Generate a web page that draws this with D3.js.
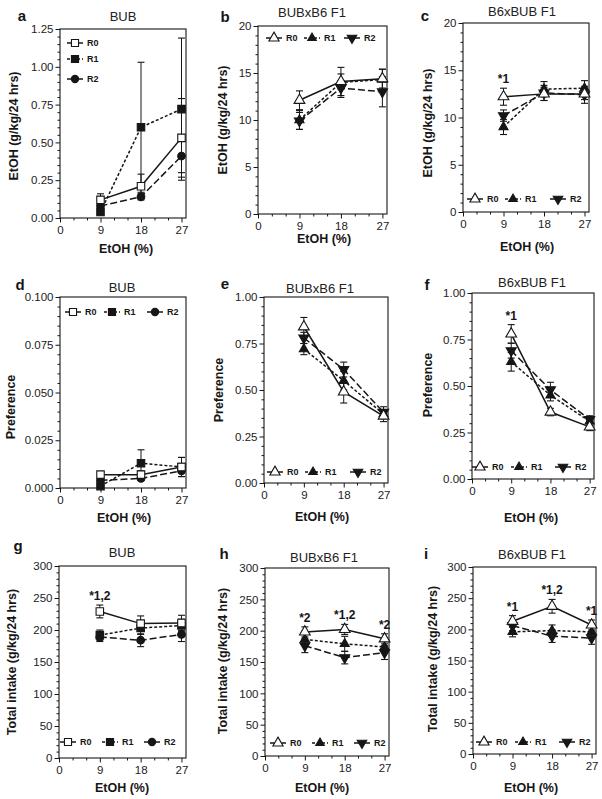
<!DOCTYPE html>
<html><head><meta charset="utf-8">
<script src="https://cdn.jsdelivr.net/npm/d3@7"></script>
<style>body{margin:0;background:#fff}svg{display:block}</style>
</head><body>
<svg id="chart" width="602" height="799"></svg>
<script>
// ---------- DATA ----------
const concentrations = [9, 18, 27];
const xTickValues = [0, 9, 18, 27];
const seriesLabels = ["R0", "R1", "R2"];
const panelLetters = ["a", "b", "c", "d", "e", "f", "g", "h", "i"];
const panelTitles = ["BUB", "BUBxB6 F1", "B6xBUB F1", "BUB", "BUBxB6 F1", "B6xBUB F1", "BUB", "BUBxB6 F1", "B6xBUB F1"];
const yAxisTitles = ["EtOH (g/kg/24 hrs)", "Preference", "Total intake (g/kg/24 hrs)"];
const xAxisTitle = "EtOH (%)";

// rows: R0, R1, R2 ; columns: 9, 18, 27 %
const bubEtoh = [[0.12, 0.21, 0.53], [0.04, 0.60, 0.72], [0.08, 0.14, 0.41]];
const bubEtohErr = [[0.04, 0.08, 0.26], [0.02, 0.43, 0.47], [0.02, 0.02, 0.11]];
const bubxb6Etoh = [[12.1, 14.1, 14.4], [10.0, 14.0, 14.3], [9.9, 13.4, 13.0]];
const bubxb6EtohErr = [[1.0, 0.8, 1.0], [1.0, 1.6, 1.1], [0.9, 0.8, 1.6]];
const b6xbubEtoh = [[12.2, 12.5, 12.5], [9.0, 13.0, 13.1], [10.2, 12.6, 12.4]];
const b6xbubEtohErr = [[0.9, 0.7, 0.6], [0.8, 0.8, 0.8], [0.6, 0.8, 0.9]];

const bubPref = [[0.007, 0.007, 0.011], [0.001, 0.013, 0.011], [0.004, 0.005, 0.009]];
const bubPrefErr = [[0.001, 0.002, 0.005], [0.001, 0.007, 0.005], [0.002, 0.001, 0.003]];
const bubxb6Pref = [[0.84, 0.49, 0.36], [0.72, 0.55, 0.37], [0.78, 0.61, 0.38]];
const bubxb6PrefErr = [[0.05, 0.06, 0.03], [0.03, 0.05, 0.02], [0.03, 0.04, 0.03]];
const b6xbubPref = [[0.78, 0.36, 0.28], [0.63, 0.45, 0.31], [0.69, 0.48, 0.32]];
const b6xbubPrefErr = [[0.05, 0.02, 0.02], [0.05, 0.03, 0.02], [0.04, 0.04, 0.02]];

const bubTotal = [[229, 210, 211], [192, 203, 207], [189, 184, 193]];
const bubTotalErr = [[10, 12, 12], [8, 10, 10], [7, 10, 11]];
const bubxb6Total = [[198, 202, 187], [186, 179, 174], [176, 157, 165]];
const bubxb6TotalErr = [[8, 8, 8], [9, 12, 9], [11, 10, 11]];
const b6xbubTotal = [[213, 237, 207], [196, 198, 196], [206, 189, 186]];
const b6xbubTotalErr = [[9, 11, 8], [8, 9, 9], [8, 10, 10]];

const etohTicksBUB = [0, 0.25, 0.5, 0.75, 1.0, 1.25];
const etohTicksF1 = [0, 5, 10, 15, 20];
const prefTicksBUB = [0, 0.025, 0.05, 0.075, 0.1];
const prefTicksF1 = [0, 0.25, 0.5, 0.75, 1.0];
const totalTicks = [0, 50, 100, 150, 200, 250, 300];

const annotC = [[0, "*1"]];
const annotF = [[0, "*1"]];
const annotG = [[0, "*1,2"]];
const annotH = [[0, "*2"], [1, "*1,2"], [2, "*2"]];
const annotI = [[0, "*1"], [1, "*1,2"], [2, "*1"]];

// ---------- LAYOUT ----------
const panels = [
  {m: bubEtoh, e: bubEtohErr, t: etohTicksBUB, fmt: ".2f", yt: 0, shape: "sq", ann: [],
   L: 60, R: 186, T: 29, B: 218, let: [22, 21], tit: [123, 21], ytp: [14, 126], xtp: [126, 253],
   leg: {v: true, xs: [75, 75, 75], ys: [43, 59, 79]}},
  {m: bubxb6Etoh, e: bubxb6EtohErr, t: etohTicksF1, fmt: "d", yt: 0, shape: "tri", ann: [],
   L: 258, R: 387, T: 26, B: 214, let: [225, 22], tit: [312, 17], ytp: [223, 120], xtp: [324, 243],
   leg: {xs: [274, 312, 352], y: 38}},
  {m: b6xbubEtoh, e: b6xbubEtohErr, t: etohTicksF1, fmt: "d", yt: 0, shape: "tri", ann: annotC,
   L: 463, R: 589, T: 23, B: 212, let: [425, 21], tit: [522, 16], ytp: [428, 123], xtp: [527, 251],
   leg: {xs: [475, 513, 558], y: 199}},
  {m: bubPref, e: bubPrefErr, t: prefTicksBUB, fmt: ".3f", yt: 1, shape: "sq", ann: [],
   L: 60, R: 186, T: 297, B: 488, let: [20, 290], tit: [122, 292], ytp: [11, 407], xtp: [124, 522],
   leg: {xs: [73, 112, 155], y: 312}},
  {m: bubxb6Pref, e: bubxb6PrefErr, t: prefTicksF1, fmt: ".2f", yt: 1, shape: "tri", ann: [],
   L: 264, R: 388, T: 297, B: 483, let: [225, 289], tit: [320, 293], ytp: [219, 390], xtp: [322, 521],
   leg: {xs: [275, 313, 358], y: 472}},
  {m: b6xbubPref, e: b6xbubPrefErr, t: prefTicksF1, fmt: ".2f", yt: 1, shape: "tri", ann: annotF,
   L: 472, R: 594, T: 293, B: 479, let: [427, 290], tit: [532, 287], ytp: [428, 385], xtp: [531, 522],
   leg: {xs: [480, 519, 563], y: 467}},
  {m: bubTotal, e: bubTotalErr, t: totalTicks, fmt: "d", yt: 2, shape: "sq", ann: annotG,
   L: 59, R: 186, T: 566, B: 758, let: [18, 551], tit: [122, 557], ytp: [12, 662], xtp: [122, 792],
   leg: {xs: [68, 110, 152], y: 742}},
  {m: bubxb6Total, e: bubxb6TotalErr, t: totalTicks, fmt: "d", yt: 2, shape: "tri", ann: annotH,
   L: 265, R: 389, T: 568, B: 756, let: [224, 559], tit: [324, 562], ytp: [223, 661], xtp: [322, 792],
   leg: {xs: [278, 320, 362], y: 743}},
  {m: b6xbubTotal, e: b6xbubTotalErr, t: totalTicks, fmt: "d", yt: 2, shape: "tri", ann: annotI,
   L: 473, R: 596, T: 567, B: 754, let: [426, 559], tit: [532, 559], ytp: [433, 659], xtp: [531, 792],
   leg: {xs: [484, 523, 567], y: 742}}
];

const INK = "#161616";
const FONT = "'Liberation Sans', Arial, sans-serif";
const dashes = [null, "3,2", "7,3"];

const svg = d3.select("#chart");

function marker(shape, s, scale) {
  scale = scale || 1;
  if (shape === "sq") {
    if (s === 2) return {path: d3.symbol(d3.symbolCircle, 46 * scale)(), rot: 0, fill: INK};
    return {path: d3.symbol(d3.symbolSquare, 56 * scale)(), rot: 0, fill: s === 0 ? "#fff" : INK};
  }
  if (s === 0) return {path: d3.symbol(d3.symbolTriangle, 50 * scale)(), rot: 0, fill: "#fff"};
  if (s === 1) return {path: d3.symbol(d3.symbolTriangle, 36 * scale)(), rot: 0, fill: INK};
  return {path: d3.symbol(d3.symbolTriangle, 44 * scale)(), rot: 180, fill: INK};
}

panels.forEach((p, pi) => {
  const g = svg.append("g");
  const x = d3.scaleLinear().domain([0, 28]).range([p.L, p.R]);
  const yMax = p.t[p.t.length - 1];
  const y = d3.scaleLinear().domain([0, yMax]).range([p.B, p.T]);

  // frame
  g.append("rect").attr("x", p.L).attr("y", p.T).attr("width", p.R - p.L).attr("height", p.B - p.T)
    .attr("fill", "none").attr("stroke", INK).attr("stroke-width", 1.1);

  // y minor ticks
  const yMinor = [];
  for (let k = 0; k < p.t.length - 1; k++) {
    const step = (p.t[k + 1] - p.t[k]) / 5;
    for (let j = 1; j < 5; j++) yMinor.push(p.t[k] + j * step);
  }
  g.append("g").attr("transform", `translate(${p.L},0)`)
    .call(d3.axisLeft(y).tickValues(yMinor).tickSize(2.5).tickFormat(""))
    .call(a => a.select(".domain").remove())
    .selectAll("line").attr("stroke", INK);
  const ya = g.append("g").attr("transform", `translate(${p.L},0)`)
    .call(d3.axisLeft(y).tickValues(p.t).tickSize(4.5).tickPadding(2).tickFormat(d3.format(p.fmt)));
  ya.select(".domain").remove();
  ya.selectAll("line").attr("stroke", INK);
  ya.selectAll("text").attr("font-family", FONT).attr("font-size", 11.5).attr("fill", "#222");

  // x ticks
  const xMinor = d3.range(0, 28, 3).filter(v => !xTickValues.includes(v));
  g.append("g").attr("transform", `translate(0,${p.B})`)
    .call(d3.axisBottom(x).tickValues(xMinor).tickSize(2.5).tickFormat(""))
    .call(a => a.select(".domain").remove())
    .selectAll("line").attr("stroke", INK);
  const xa = g.append("g").attr("transform", `translate(0,${p.B})`)
    .call(d3.axisBottom(x).tickValues(xTickValues).tickSize(4.5).tickPadding(3));
  xa.select(".domain").remove();
  xa.selectAll("line").attr("stroke", INK);
  xa.selectAll("text").attr("font-family", FONT).attr("font-size", 11.5).attr("fill", "#222");

  // texts
  g.append("text").attr("x", p.let[0]).attr("y", p.let[1]).attr("text-anchor", "middle")
    .attr("font-family", FONT).attr("font-weight", "bold").attr("font-size", 15).attr("fill", INK)
    .text(panelLetters[pi]);
  g.append("text").attr("x", p.tit[0]).attr("y", p.tit[1]).attr("text-anchor", "middle")
    .attr("font-family", FONT).attr("font-size", 13).attr("fill", "#222").text(panelTitles[pi]);
  g.append("text").attr("transform", `translate(${p.ytp[0]},${p.ytp[1]}) rotate(-90)`)
    .attr("text-anchor", "middle").attr("dominant-baseline", "central")
    .attr("font-family", FONT).attr("font-weight", "bold").attr("font-size", 12.5).attr("fill", INK)
    .text(yAxisTitles[p.yt]);
  g.append("text").attr("x", p.xtp[0]).attr("y", p.xtp[1]).attr("text-anchor", "middle")
    .attr("font-family", FONT).attr("font-weight", "bold").attr("font-size", 12.5).attr("fill", INK)
    .text(xAxisTitle);

  // lines
  const line = d3.line().x((d, i) => x(concentrations[i])).y(d => y(d));
  [2, 1, 0].forEach(s => {
    g.append("path").attr("d", line(p.m[s])).attr("fill", "none").attr("stroke", INK)
      .attr("stroke-width", 1.5).attr("stroke-dasharray", dashes[s]);
  });

  // error bars
  [2, 1, 0].forEach(s => {
    p.m[s].forEach((v, i) => {
      const cx = x(concentrations[i]);
      const y1 = y(v + p.e[s][i]), y0 = y(Math.max(0, v - p.e[s][i]));
      g.append("line").attr("x1", cx).attr("x2", cx).attr("y1", y1).attr("y2", y0)
        .attr("stroke", INK).attr("stroke-width", 1);
      [y1, y0].forEach(yy => g.append("line").attr("x1", cx - 3.5).attr("x2", cx + 3.5)
        .attr("y1", yy).attr("y2", yy).attr("stroke", INK).attr("stroke-width", 1.1));
    });
  });

  // markers
  [2, 1, 0].forEach(s => {
    const mk = marker(p.shape, s);
    p.m[s].forEach((v, i) => {
      g.append("path").attr("d", mk.path)
        .attr("transform", `translate(${x(concentrations[i])},${y(v)}) rotate(${mk.rot})`)
        .attr("fill", mk.fill).attr("stroke", INK).attr("stroke-width", 1.1);
    });
  });

  // annotations
  p.ann.forEach(([i, txt]) => {
    const v = p.m[0][i] + p.e[0][i];
    g.append("text").attr("x", x(concentrations[i])).attr("y", y(v) - 5)
      .attr("text-anchor", "middle").attr("font-family", FONT).attr("font-weight", "bold")
      .attr("font-size", 12).attr("fill", INK).text(txt);
  });

  // legend
  seriesLabels.forEach((lab, s) => {
    const lx = p.leg.xs[s];
    const ly = p.leg.v ? p.leg.ys[s] : p.leg.y;
    g.append("line").attr("x1", lx - 8).attr("x2", lx + 8).attr("y1", ly).attr("y2", ly)
      .attr("stroke", INK).attr("stroke-width", 1.5).attr("stroke-dasharray", dashes[s]);
    const mk = marker(p.shape, s, 0.9);
    g.append("path").attr("d", mk.path).attr("transform", `translate(${lx},${ly}) rotate(${mk.rot})`)
      .attr("fill", mk.fill).attr("stroke", INK).attr("stroke-width", 1.1);
    g.append("text").attr("x", lx + 12).attr("y", ly).attr("dominant-baseline", "central")
      .attr("font-family", FONT).attr("font-weight", "bold").attr("font-size", 9).attr("fill", INK)
      .text(lab);
  });
});
</script>
</body></html>
